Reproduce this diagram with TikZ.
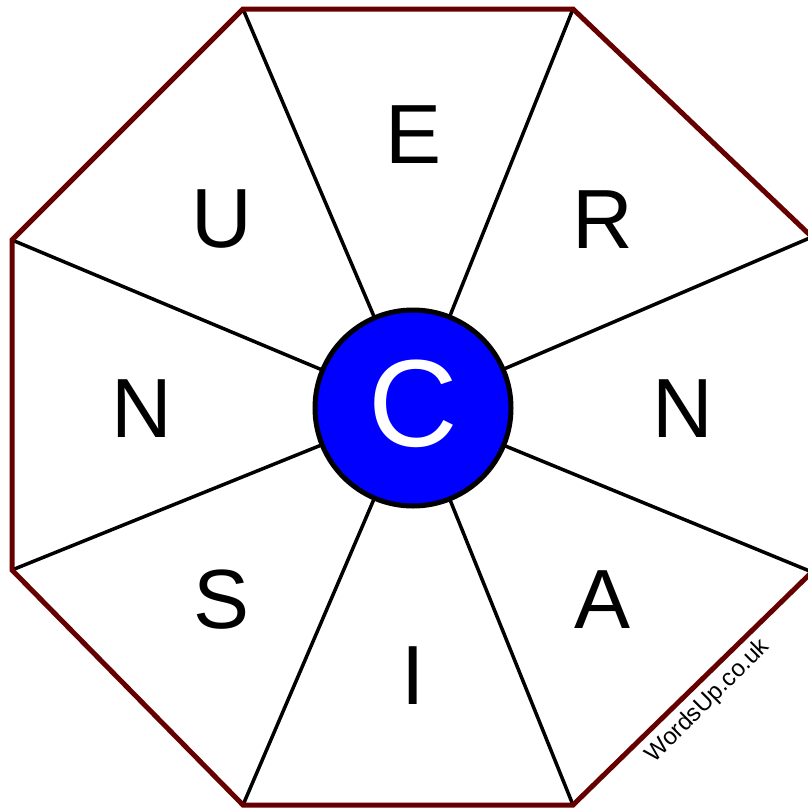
\documentclass[tikz,border=0pt]{standalone}
\usepackage{fontspec}
\setmainfont{Liberation Sans}
\definecolor{rim}{RGB}{102,0,0}
\definecolor{hub}{RGB}{0,0,255}
\begin{document}
\begin{tikzpicture}[x=1pt,y=-1pt,
  spoke/.style={line width=3.5pt,black},
  rimline/.style={line width=5pt,rim,line join=miter},
  letter/.style={inner sep=0pt,font=\fontsize{84}{84}\selectfont},
  hubnode/.style={circle,draw=black,line width=5pt,fill=hub,minimum size=196pt,inner sep=0pt}]
\useasboundingbox (0,0) rectangle (808,809);
\coordinate (v1) at (243,9);
\coordinate (v2) at (573,9);
\coordinate (v3) at (812,237);
\coordinate (v4) at (812,572);
\coordinate (v5) at (573,805);
\coordinate (v6) at (243,805);
\coordinate (v7) at (12,570);
\coordinate (v8) at (12,240);
\coordinate (ctr) at (413,408);
\foreach \v in {v1,v2,v3,v4,v5,v6,v7,v8} \draw[spoke] (ctr) -- (\v);
\draw[rimline] (v1) -- (v2) -- (v3) -- (v4) -- (v5) -- (v6) -- (v7) -- (v8) -- cycle;
\node[hubnode] (hub) at (ctr) {};
\node[inner sep=0pt,text=white,font=\fontsize{124}{124}\selectfont] (cl) at (413,404) {C};
\node[letter] (le) at (414,135) {E};
\node[letter] (lr) at (603,220) {R};
\node[letter] (ln1) at (683,409) {N};
\node[letter] (la) at (603,600) {A};
\node[letter] (li) at (413,676) {I};
\node[letter] (ls) at (222,600) {S};
\node[letter] (ln2) at (142,409) {N};
\node[letter] (lu) at (222,219) {U};
\node[rotate=45,inner sep=0pt,font=\fontsize{24}{24}\selectfont] (wm) at (708,701) {WordsUp.co.uk};
\end{tikzpicture}
\end{document}
